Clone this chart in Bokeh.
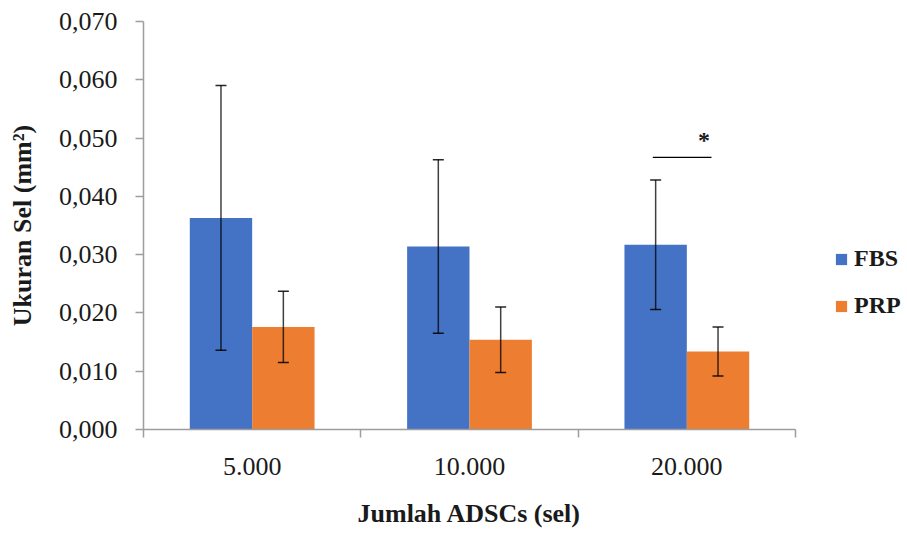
from bokeh.plotting import figure
from bokeh.models import (Range1d, FixedTicker, CustomJSTickFormatter, Whisker,
                          ColumnDataSource, Legend, LegendItem, TeeHead)
from bokeh.embed import file_html
from bokeh.resources import INLINE
from bokeh.core.properties import value

# ---- data ----
categories = ["5.000", "10.000", "20.000"]
series = ["FBS", "PRP"]
fbs_mean = [0.0363, 0.0314, 0.0317]
fbs_sd = [0.0227, 0.0149, 0.0111]
prp_mean = [0.0176, 0.0154, 0.0134]
prp_sd = [0.0061, 0.0056, 0.0042]
y_ticks = [0.0, 0.01, 0.02, 0.03, 0.04, 0.05, 0.06, 0.07]
sig_group = "20.000"
sig_level = 0.0467
sig_label = "*"

colors = ["#4472C4", "#ED7D31"]
FONT = "Liberation Serif"
TXT = "#1a1a1a"
AXC = "#9d9d9d"
bar_w = 0.287

idx = list(range(len(categories)))
fbs_x = [i + 0.5 - bar_w / 2 for i in idx]
prp_x = [i + 0.5 + bar_w / 2 for i in idx]

p = figure(frame_width=652, frame_height=408, output_backend="svg", toolbar_location=None,
           x_range=Range1d(0, len(categories)), y_range=Range1d(0, 0.07),
           min_border_left=143, min_border_right=104, min_border_top=21,
           min_border_bottom=99)
p.outline_line_color = None
p.grid.visible = False
p.background_fill_color = "white"

src_f = ColumnDataSource(dict(x=fbs_x, top=fbs_mean,
                              upper=[m + s for m, s in zip(fbs_mean, fbs_sd)],
                              lower=[m - s for m, s in zip(fbs_mean, fbs_sd)]))
src_p = ColumnDataSource(dict(x=prp_x, top=prp_mean,
                              upper=[m + s for m, s in zip(prp_mean, prp_sd)],
                              lower=[m - s for m, s in zip(prp_mean, prp_sd)]))

r_f = p.vbar(x="x", top="top", width=bar_w, source=src_f, fill_color=colors[0], line_color=None)
r_p = p.vbar(x="x", top="top", width=bar_w, source=src_p, fill_color=colors[1], line_color=None)

for src in (src_f, src_p):
    w = Whisker(base="x", upper="upper", lower="lower", source=src, level="overlay",
                line_color="black", line_alpha=0.75, line_width=1.5,
                upper_head=TeeHead(size=11, line_color="black", line_width=1.5, line_alpha=0.85),
                lower_head=TeeHead(size=11, line_color="black", line_width=1.5, line_alpha=0.85))
    p.add_layout(w)

# significance marker
g = categories.index(sig_group)
p.line(x=[fbs_x[g] - 0.013, prp_x[g] - 0.03], y=[sig_level, sig_level],
       line_color="black", line_width=1.2)
p.text(x=[prp_x[g] - 0.064], y=[sig_level], text=[sig_label], text_align="center",
       text_baseline="bottom", text_font=value(FONT), text_font_style="bold",
       text_font_size="24px", text_color=TXT, y_offset=-4)

# x axis
xa = p.xaxis[0]
xa.ticker = FixedTicker(ticks=[i + 0.5 for i in idx], minor_ticks=[float(i) for i in range(len(categories) + 1)])
xa.major_label_overrides = {i + 0.5: c for i, c in zip(idx, categories)}
xa.major_tick_out = 0
xa.major_tick_in = 0
xa.minor_tick_out = 8
xa.minor_tick_in = 0
xa.minor_tick_line_color = AXC
xa.minor_tick_line_width = 1.5
xa.axis_line_color = AXC
xa.axis_line_width = 1.5
xa.major_label_standoff = 20
xa.major_label_text_font = FONT
xa.major_label_text_font_size = "26px"
xa.major_label_text_color = TXT
xa.axis_label = "Jumlah ADSCs (sel)"
xa.axis_label_text_font = FONT
xa.axis_label_text_font_style = "bold"
xa.axis_label_text_font_size = "26px"
xa.axis_label_text_color = TXT
xa.axis_label_standoff = 21

# y axis
ya = p.yaxis[0]
ya.ticker = FixedTicker(ticks=y_ticks, minor_ticks=[])
ya.formatter = CustomJSTickFormatter(code="return tick.toFixed(3).replace('.', ',');")
ya.major_tick_out = 8
ya.major_tick_in = 0
ya.major_tick_line_color = AXC
ya.major_tick_line_width = 1.5
ya.minor_tick_line_color = None
ya.axis_line_color = AXC
ya.axis_line_width = 1.5
ya.major_label_standoff = 18
ya.major_label_text_font = FONT
ya.major_label_text_font_size = "26px"
ya.major_label_text_color = TXT
ya.axis_label = "Ukuran Sel (mm²)"
ya.axis_label_text_font = FONT
ya.axis_label_text_font_style = "bold"
ya.axis_label_text_font_size = "26px"
ya.axis_label_text_color = TXT
ya.axis_label_standoff = 19

legend = Legend(items=[LegendItem(label=series[0], renderers=[r_f]),
                       LegendItem(label=series[1], renderers=[r_p])],
                location=(39, 110), orientation="vertical",
                border_line_alpha=0, background_fill_alpha=0,
                padding=0, margin=0, spacing=20, glyph_width=14, glyph_height=14,
                label_standoff=6, label_height=20,
                label_text_font=FONT, label_text_font_style="bold",
                label_text_font_size="24px", label_text_color=TXT)
p.add_layout(legend, "right")

open("out.html", "w").write(file_html(p, INLINE))
